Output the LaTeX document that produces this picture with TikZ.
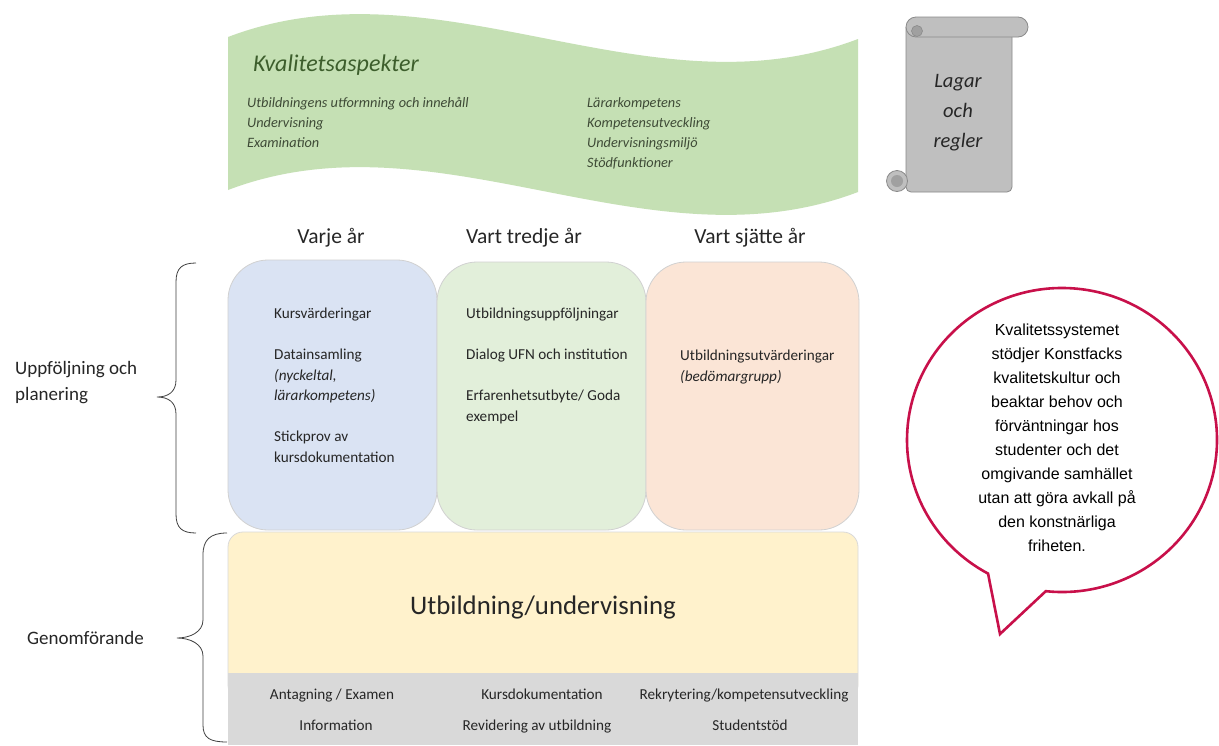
\documentclass[tikz,border=0pt]{standalone}
\usepackage{fontspec}
\usetikzlibrary{calc}
\setmainfont{Carlito}
\newfontfamily\arialfont{Liberation Sans}
\definecolor{bannergreen}{HTML}{C5E0B4}
\definecolor{titlegreen}{HTML}{3D5E2C}
\definecolor{itemgray}{HTML}{3E4A36}
\definecolor{boxblue}{HTML}{DAE3F3}
\definecolor{boxgreen}{HTML}{E2EFDA}
\definecolor{boxorange}{HTML}{FBE5D6}
\definecolor{boxyellow}{HTML}{FFF2CC}
\definecolor{bandgray}{HTML}{D9D9D9}
\definecolor{scrollgray}{HTML}{BFBFBF}
\definecolor{scrolldark}{HTML}{A0A0A0}
\definecolor{scrolledge}{HTML}{8A8A8A}
\definecolor{crimson}{HTML}{C8104A}
\definecolor{txt}{HTML}{262626}
\begin{document}
\begin{tikzpicture}[x=1pt,y=-1pt,
  colbox/.style={draw=black!18, line width=0.8pt, rounded corners=40},
  boxtext/.style={anchor=base west, align=left, font=\fontsize{15.2}{20.5}\selectfont, text=txt, inner sep=0pt},
  hdr/.style={anchor=base, font=\fontsize{21.5}{25}\selectfont, text=txt, inner sep=0pt},
  bandtext/.style={anchor=base, font=\fontsize{15.2}{18}\selectfont, text=txt, inner sep=0pt},
  itemtext/.style={anchor=base west, align=left, font=\fontsize{14.3}{20}\selectfont\itshape, text=itemgray, inner sep=0pt},
  brace/.style={draw=black!75, line width=0.8pt},
  sidetext/.style={font=\fontsize{19}{26}\selectfont, text=txt, inner sep=0pt, align=left}]
\useasboundingbox (0,0) rectangle (1219,745);
\fill[white] (0,0) rectangle (1219,745);

% banner
\fill[bannergreen] (228,37) .. controls (438,-43) and (648,119) .. (858,39)
  -- (858,192) .. controls (648,272) and (438,110) .. (228,190) -- cycle;
\node[anchor=base west, inner sep=0pt, font=\fontsize{24}{28}\selectfont\itshape, text=titlegreen] (kval) at (253,71) {Kvalitetsaspekter};
\node[itemtext] (itemsL) at (247,147) {Utbildningens utformning och innehåll\\Undervisning\\Examination};
\node[itemtext] (itemsR) at (587,167) {Lärarkompetens\\Kompetensutveckling\\Undervisningsmiljö\\Stödfunktioner};

% scroll
\draw[scrolledge, fill=scrollgray, line width=0.8pt, rounded corners=5] (906,27) -- (906,192) -- (1012,192) -- (1012,30);
\draw[scrolledge, fill=scrollgray, line width=0.8pt, rounded corners=10] (906,17) rectangle (1028,37);
\draw[scrolledge, fill=scrolldark, line width=0.6pt] (917,31) circle (5.5);
\draw[scrolledge, fill=scrollgray, line width=0.8pt] (897,181) circle (10.5);
\fill[scrolldark] (897,181) circle (6);
\node[font=\fontsize{20.5}{30}\selectfont\itshape, text=txt, align=center, inner sep=0pt] (lagar) at (958,113) {Lagar\\och\\regler};

% headers
\node[hdr] (h1) at (331,243) {Varje år};
\node[hdr] (h2) at (524,243) {Vart tredje år};
\node[hdr] (h3) at (750,243) {Vart sjätte år};

% column boxes
\draw[colbox, fill=boxblue] (228,260) rectangle (437,530);
\draw[colbox, fill=boxgreen] (437,262) rectangle (646,530);
\draw[colbox, fill=boxorange] (646,262) rectangle (859,530);
\node[boxtext] (b1) at (274,462) {Kursvärderingar\\[20.5pt]Datainsamling\\\textit{(nyckeltal,}\\\textit{lärarkompetens)}\\[20.5pt]Stickprov av\\kursdokumentation};
\node[boxtext] (b2) at (466,421) {Utbildningsuppföljningar\\[20.5pt]Dialog UFN och institution\\[20.5pt]Erfarenhetsutbyte/ Goda\\exempel};
\node[boxtext] (b3) at (680,381) {Utbildningsutvärderingar\\\textit{(bedömargrupp)}};

% yellow box and gray band
\draw[draw=black!15, line width=0.8pt, fill=boxyellow, rounded corners=15] (228,532) rectangle (858,700);
\fill[bandgray] (228,673) rectangle (858,745);
\draw[black!15, line width=0.6pt] (228,673) -- (858,673);
\node[font=\fontsize{26.8}{30}\selectfont, text=txt, inner sep=0pt] (utb) at (543,607) {Utbildning/undervisning};
\node[bandtext] (g1) at (332,699) {Antagning / Examen};
\node[bandtext] (g2) at (542,699) {Kursdokumentation};
\node[bandtext] (g3) at (744,699) {Rekrytering/kompetensutveckling};
\node[bandtext] (g4) at (336,730) {Information};
\node[bandtext] (g5) at (537,730) {Revidering av utbildning};
\node[bandtext] (g6) at (750,730) {Studentstöd};

% braces
\draw[brace] (196,263) .. controls (182,263) and (176,268) .. (176,282) -- (176,380)
  .. controls (176,392) and (168,397) .. (157,397)
  .. controls (168,397) and (176,402) .. (176,414) -- (176,514)
  .. controls (176,528) and (182,533) .. (196,533);
\draw[brace] (227,533) .. controls (210,533) and (203,540) .. (203,555) -- (203,620)
  .. controls (203,632) and (190,638) .. (177,638)
  .. controls (190,638) and (203,644) .. (203,656) -- (203,725)
  .. controls (203,738) and (210,742) .. (227,742);
\node[sidetext, anchor=base west] (upp) at (15,400) {Uppföljning och\\planering};
\node[sidetext, anchor=base west] (gen) at (27,644) {Genomförande};

% callout
\coordinate (cc) at (1062,440);
\coordinate (tailA) at ($(cc)+(118.5:155 and 152)$);
\coordinate (tailB) at ($(cc)+(96:155 and 152)$);
\coordinate (tip) at (1000,634);
\draw[crimson, line width=2.6pt, fill=white, line join=miter]
  (tailA) -- (tip) -- (tailB)
  arc[start angle=96, end angle=-241.5, x radius=155, y radius=152] -- cycle;
\node[font=\arialfont\fontsize{16}{24}\selectfont, text=black, align=center, inner sep=0pt] (callt) at (1057,438) {Kvalitetssystemet\\stödjer Konstfacks\\kvalitetskultur och\\beaktar behov och\\förväntningar hos\\studenter och det\\omgivande samhället\\utan att göra avkall på\\den konstnärliga\\friheten.};
\end{tikzpicture}
\end{document}
